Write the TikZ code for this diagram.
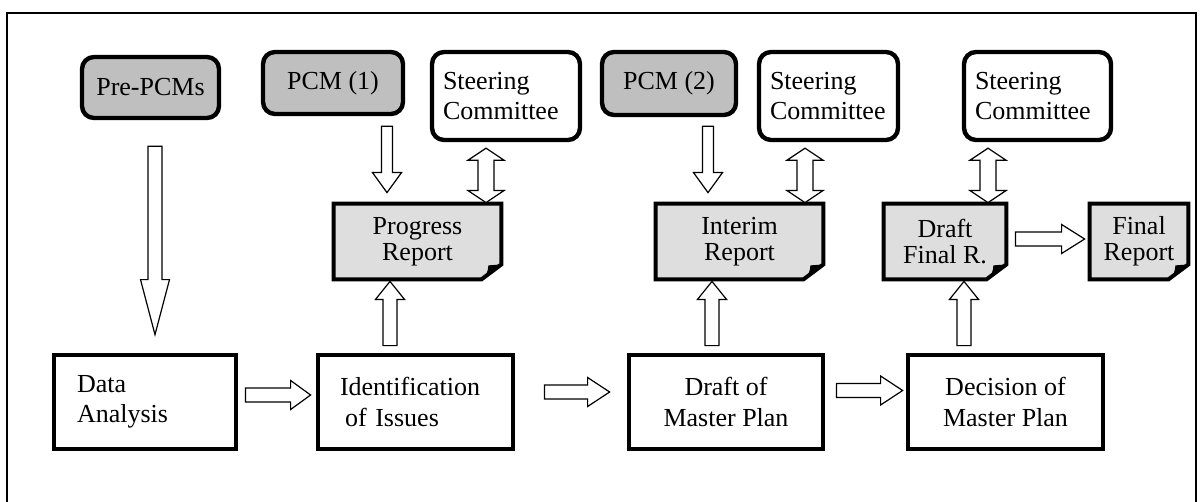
\documentclass[tikz,border=0pt]{standalone}
\usepackage{fontspec}
\setmainfont{Liberation Serif}
\usetikzlibrary{calc,backgrounds}

\definecolor{pcmgrey}{gray}{0.75}
\definecolor{docgrey}{gray}{0.87}

\tikzset{
  pcmbox/.style={draw, fill=pcmgrey, rounded corners=6pt, line width=2.2pt, inner sep=0pt, align=center},
  steerbox/.style={draw, fill=white, rounded corners=6pt, line width=2.2pt, inner xsep=5.5pt, inner ysep=0pt, minimum height=44pt, align=left},
  docnode/.style={inner sep=0pt, minimum height=37.5pt, align=center, font=\fontsize{13pt}{13.2pt}\selectfont},
  docline/.style={fill=docgrey, line width=2pt, line join=miter},
  procbox/.style={draw, line width=2.4pt, inner ysep=0pt, minimum height=47pt},
  arrline/.style={draw, fill=white, line width=0.6pt, line join=miter}
}

\def\headw{7.25pt}
% block arrow: [shaft half width]{from}{to}{head length}
\newcommand{\barrow}[4][3.5pt]{%
  \coordinate (bS) at #2;
  \coordinate (bE) at #3;
  \draw[arrline] ($(bS)!#1!90:(bE)$) -- ($(bE)!#4!(bS)!#1!90:(bE)$)
    -- ($(bE)!#4!(bS)!\headw!90:(bE)$) -- (bE)
    -- ($(bE)!#4!(bS)!\headw!-90:(bE)$) -- ($(bE)!#4!(bS)!#1!-90:(bE)$)
    -- ($(bS)!#1!-90:(bE)$) -- cycle;
}
% two-headed block arrow
\newcommand{\dbarrow}[2]{%
  \coordinate (bS) at #1;
  \coordinate (bE) at #2;
  \draw[arrline] (bS) -- ($(bS)!6pt!(bE)!9pt!90:(bE)$) -- ($(bS)!6pt!(bE)!4pt!90:(bE)$)
    -- ($(bE)!6pt!(bS)!4pt!90:(bE)$) -- ($(bE)!6pt!(bS)!9pt!90:(bE)$) -- (bE)
    -- ($(bE)!6pt!(bS)!9pt!-90:(bE)$) -- ($(bE)!6pt!(bS)!4pt!-90:(bE)$)
    -- ($(bS)!6pt!(bE)!4pt!-90:(bE)$) -- ($(bS)!6pt!(bE)!9pt!-90:(bE)$) -- cycle;
}

\begin{document}
\begin{tikzpicture}[x=0.5pt, y=-0.5pt,
  every node/.style={font=\fontsize{13pt}{15.2pt}\selectfont}]
  \useasboundingbox (0,0) rectangle (1202,502);
  \draw[line width=0.6pt] (7,530) |- (1196,13) -- (1196,530);

  % top row
  \node[pcmbox, minimum width=68.5pt, minimum height=30.5pt] (prePcm) at (150.5,87.5) {Pre-PCMs};
  \node[pcmbox, minimum width=70pt, minimum height=31pt] (pcmA) at (333,83) {PCM (1)};
  \node[steerbox, text width=63pt] (steerA) at (506,96) {Steering\\Committee};
  \node[pcmbox, minimum width=67pt, minimum height=31.5pt] (pcmB) at (669,83.5) {PCM (2)};
  \node[steerbox, text width=58.5pt] (steerB) at (828.5,96) {Steering\\Committee};
  \node[steerbox, text width=62.5pt] (steerC) at (1037.5,96) {Steering\\Committee};

  % reports
  \node[docnode, minimum width=83.5pt] (repA) at (417.5,241.5) {Progress\\Report};
  \node[docnode, minimum width=83.5pt] (repB) at (739.5,241.5) {Interim\\Report};
  \node[docnode, minimum width=61pt] (repC) at (945,241.5) {Draft\\Final R.};
  \node[docnode, minimum width=49pt] (repD) at (1139,241.5) {Final\\Report};
  \begin{scope}[on background layer]
    \foreach \r in {repA,repB,repC,repD}{
      \filldraw[docline] (\r.north west) -- (\r.north east) -- ($(\r.south east)+(0,-15)$)
        -- ($(\r.south east)+(-20,0)$) -- (\r.south west) -- cycle;
      \fill ($(\r.south east)+(-20,0)$) .. controls ($(\r.south east)+(-14,-6)$) .. ($(\r.south east)+(-13,-14)$)
        -- ($(\r.south east)+(0,-15)$) -- cycle;
    }
  \end{scope}

  % process boxes
  \node[procbox, text width=68pt, inner xsep=11.5pt, align=left] (data) at (145,402) {Data\\Analysis};
  \node[procbox, text width=75.5pt, inner xsep=11pt, align=left] (ident) at (415.5,402) {Identification\\\hspace{2.5pt}of Issues};
  \node[procbox, minimum width=97pt, align=center] (draft) at (726,402) {Draft of\\Master Plan};
  \node[procbox, minimum width=97.5pt, align=center] (decide) at (1005.5,402) {Decision of\\Master Plan};

  % arrows
  \barrow{($(prePcm.south)+(4.5,26)$)}{($(data.north)+(10,-18)$)}{27.5pt}
  \barrow[2.75pt]{($(pcmA.south)+(54,10)$)}{($(repA.north)+(-30.5,-11)$)}{10pt}
  \barrow[2.75pt]{($(pcmB.south)+(39,9)$)}{($(repB.north)+(-31.5,-11)$)}{10pt}
  \dbarrow{($(steerA.south)+(-20,6)$)}{($(repA.north)+(68.5,-1)$)}
  \dbarrow{($(steerB.south)+(-23.5,6)$)}{($(repB.north)+(65.5,-1)$)}
  \dbarrow{($(steerC.south)+(-49.5,6)$)}{($(repC.north)+(43,-1)$)}
  \barrow{($(ident.north)+(-25.5,-7)$)}{($(repA.south)+(-27.5,2)$)}{9pt}
  \barrow{($(draft.north)+(-14,-7)$)}{($(repB.south)+(-27.5,2)$)}{9pt}
  \barrow{($(decide.north)+(-41.5,-7)$)}{($(repC.south)+(19,2)$)}{9pt}
  \barrow{($(data.east)+(7,-7)$)}{($(ident.west)+(-5,-7)$)}{10pt}
  \barrow{($(ident.east)+(29,-10)$)}{($(draft.west)+(-17,-10)$)}{11pt}
  \barrow{($(draft.east)+(11,-11.5)$)}{($(decide.west)+(-3,-11.5)$)}{11pt}
  \barrow{($(repC.east)+(9,-2.5)$)}{($(repD.west)+(-5,-2.5)$)}{11.5pt}
\end{tikzpicture}
\end{document}
